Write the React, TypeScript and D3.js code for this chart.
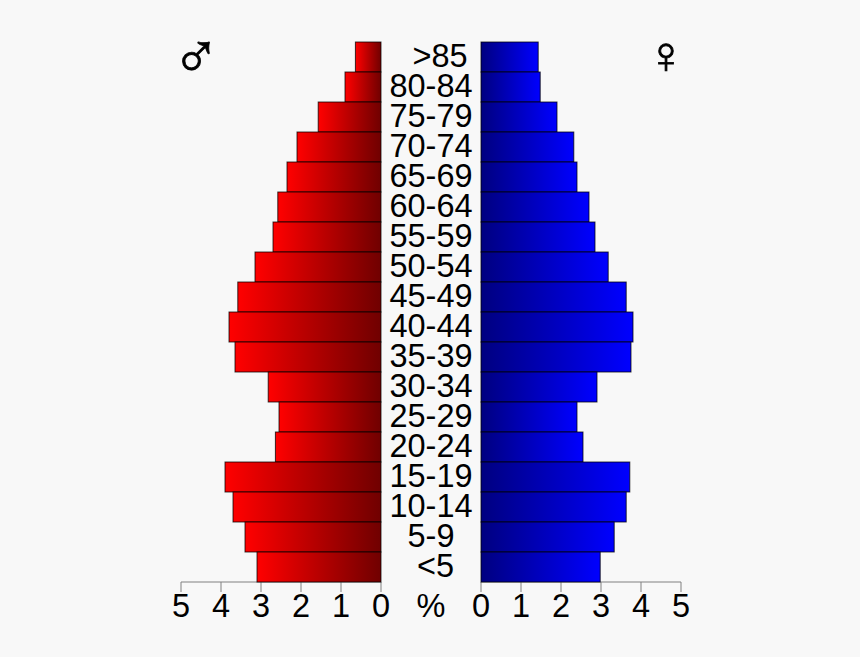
import React from "react";
import * as d3 from "d3";

const ageGroups = [">85","80-84","75-79","70-74","65-69","60-64","55-59","50-54","45-49","40-44","35-39","30-34","25-29","20-24","15-19","10-14","5-9","<5"];
const maleValues = [0.64,0.9,1.57,2.1,2.35,2.58,2.7,3.15,3.58,3.8,3.65,2.82,2.55,2.64,3.9,3.7,3.4,3.1];
const femaleValues = [1.43,1.48,1.9,2.32,2.4,2.7,2.85,3.18,3.63,3.8,3.75,2.9,2.4,2.55,3.72,3.63,3.33,2.98];
const ticks = [0,1,2,3,4,5];

const W = 860, H = 657;
const font = "'Liberation Sans', Arial, sans-serif";

export default function App() {
  const y = d3.scaleBand<string>().domain(ageGroups).range([42, 582]);
  const xM = d3.scaleLinear().domain([0, 5]).range([381, 181]);
  const xF = d3.scaleLinear().domain([0, 5]).range([481, 681]);
  const axisY = 582;
  const labelX = (g: string) => (g.startsWith(">") ? 440 : g.startsWith("<") ? 435.5 : 431);
  const axis = (x: d3.ScaleLinear<number, number>, k: string) => (
    <g key={k}>
      <line x1={x(0)} x2={x(5)} y1={axisY} y2={axisY} stroke="#808080" strokeWidth={1} />
      {ticks.map(t => (
        <g key={t}>
          <line x1={x(t)} x2={x(t)} y1={axisY} y2={axisY + 10} stroke="#808080" strokeWidth={1} />
          <text x={x(t)} y={617} textAnchor="middle" fontSize={32.5} fontFamily={font} fill="#000">{t}</text>
        </g>
      ))}
    </g>
  );
  return (
    <svg width={W} height={H} viewBox={`0 0 ${W} ${H}`} style={{ position: "fixed", left: 0, top: 0, background: "#f8f8f8" }}>
      <defs>
        <linearGradient id="gm" x1="0" x2="1" y1="0" y2="0">
          <stop offset="0" stopColor="#ff0000" />
          <stop offset="1" stopColor="#700000" />
        </linearGradient>
        <linearGradient id="gf" x1="0" x2="1" y1="0" y2="0">
          <stop offset="0" stopColor="#000080" />
          <stop offset="1" stopColor="#0000ff" />
        </linearGradient>
      </defs>
      <rect width={W} height={H} fill="#f8f8f8" />
      {axis(xM, "m")}
      {axis(xF, "f")}
      {ageGroups.map((g, i) => (
        <g key={g}>
          <rect x={xM(maleValues[i])} y={y(g)} width={xM(0) - xM(maleValues[i])} height={y.bandwidth()} fill="url(#gm)" stroke="#000" strokeOpacity={0.75} strokeWidth={1} />
          <rect x={xF(0)} y={y(g)} width={xF(femaleValues[i]) - xF(0)} height={y.bandwidth()} fill="url(#gf)" stroke="#000" strokeOpacity={0.75} strokeWidth={1} />
          <text x={labelX(g)} y={(y(g) as number) + 25} textAnchor="middle" fontSize={32.5} fontFamily={font} fill="#000">{g}</text>
        </g>
      ))}
      <text x={431} y={617} textAnchor="middle" fontSize={32.5} fontFamily={font} fill="#000">%</text>
      <text x={196} y={78} textAnchor="middle" fontSize={64} fontFamily="'Liberation Sans'" fill="#000" stroke="#000" strokeWidth={0.8}>♂</text>
      <text x={666} y={73} textAnchor="middle" fontSize={52} fontFamily="'Liberation Sans'" fill="#000" stroke="#000" strokeWidth={0.8}>♀</text>
    </svg>
  );
}
